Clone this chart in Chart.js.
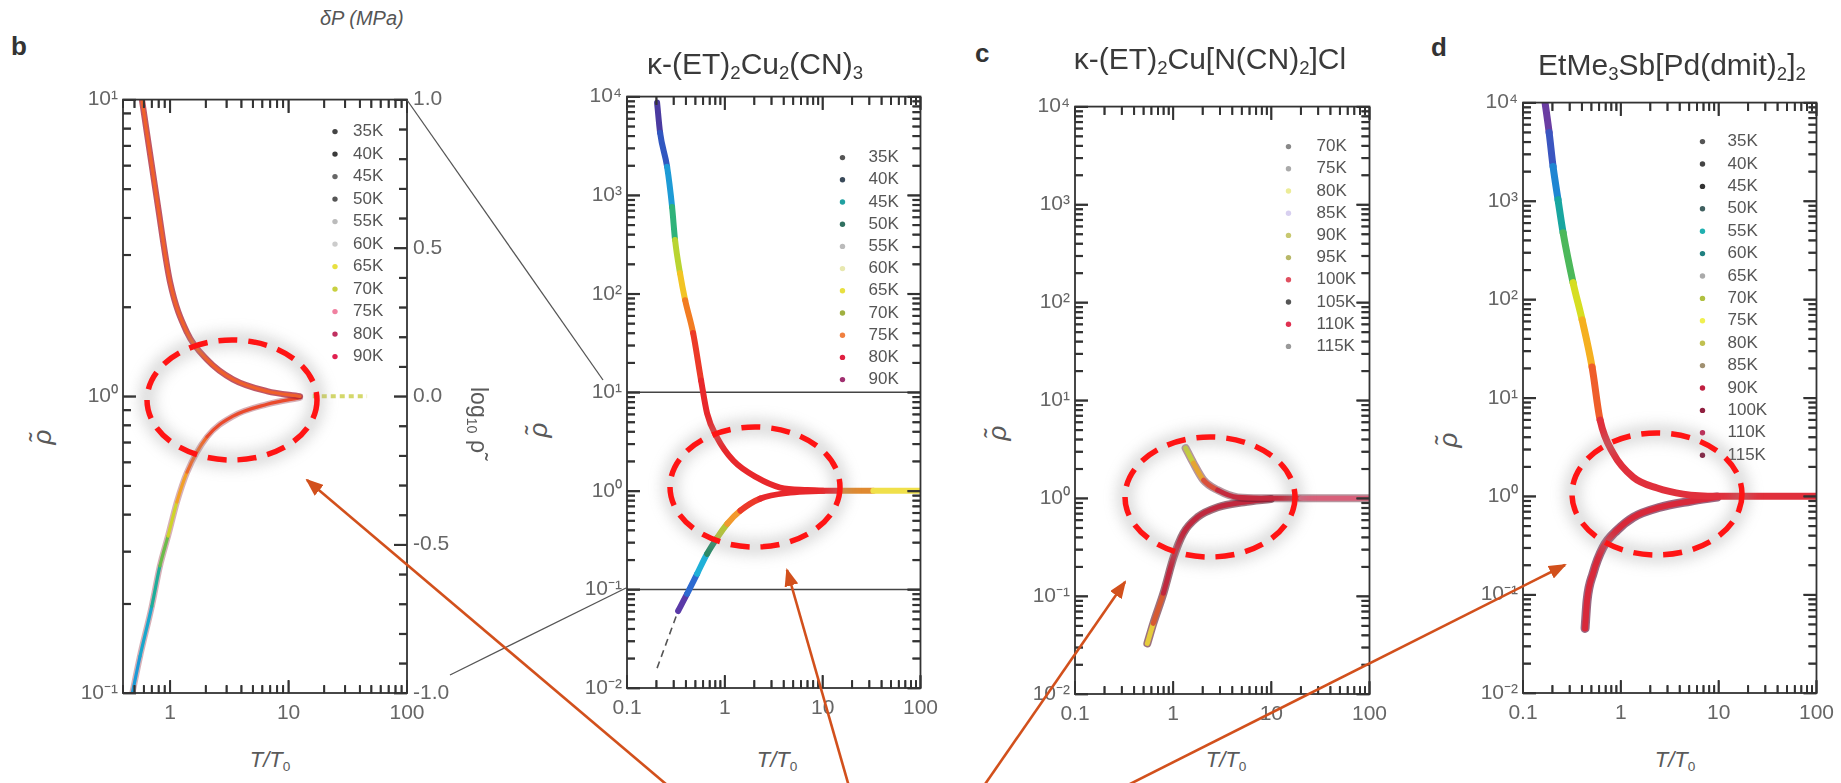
<!DOCTYPE html>
<html>
<head>
<meta charset="utf-8">
<script src="https://cdn.jsdelivr.net/npm/chart.js@4.4.1/dist/chart.umd.min.js"></script>
<style>
  html, body { margin: 0; padding: 0; background: #fff; }
  body { width: 1841px; height: 783px; position: relative; overflow: hidden;
         font-family: "Liberation Sans", Arial, sans-serif; }
  .wrap { position: absolute; }
  .txt { position: absolute; line-height: 1; white-space: nowrap; color: #3a3a3a; }
  .title { font-size: 30px; width: 420px; text-align: center; }
  .title sub, .xt sub, .rt sub { font-size: 0.62em; vertical-align: -0.28em; line-height: 0; }
  .letter { font-size: 26px; font-weight: bold; color: #333; }
  .xt { font-size: 22px; font-style: italic; color: #5a5a5a; width: 100px; text-align: center; }
  .xt sub { font-style: normal; }
  .yt { font-size: 26px; font-style: italic; color: #5a5a5a; transform: translate(-50%, -50%) rotate(-90deg); }
  .rt { font-size: 23px; color: #5a5a5a; transform: translate(-50%, -50%) rotate(90deg); }
  svg { position: absolute; left: 0; top: 0; pointer-events: none; }
</style>
</head>
<body>
<div class="wrap" id="pb"><canvas></canvas></div>
<div class="wrap" id="pcu"><canvas></canvas></div>
<div class="wrap" id="pcl"><canvas></canvas></div>
<div class="wrap" id="ppd"><canvas></canvas></div>

<div class="txt" style="left:320px;top:8px;font-size:20px;font-style:italic;color:#555">δP (MPa)</div>
<div class="txt letter" style="left:11px;top:33px">b</div>
<div class="txt letter" style="left:975px;top:40px">c</div>
<div class="txt letter" style="left:1431px;top:34px">d</div>

<div class="txt title" style="left:545px;top:49px">κ-(ET)<sub>2</sub>Cu<sub>2</sub>(CN)<sub>3</sub></div>
<div class="txt title" style="left:1000px;top:44px">κ-(ET)<sub>2</sub>Cu[N(CN)<sub>2</sub>]Cl</div>
<div class="txt title" style="left:1462px;top:50px">EtMe<sub>3</sub>Sb[Pd(dmit)<sub>2</sub>]<sub>2</sub></div>

<div class="txt xt" style="left:220px;top:749px">T/T<sub>0</sub></div>
<div class="txt xt" style="left:727px;top:749px">T/T<sub>0</sub></div>
<div class="txt xt" style="left:1176px;top:749px">T/T<sub>0</sub></div>
<div class="txt xt" style="left:1625px;top:749px">T/T<sub>0</sub></div>

<div class="txt yt" style="left:42px;top:437px">ρ̃</div>
<div class="txt yt" style="left:538px;top:430px">ρ̃</div>
<div class="txt yt" style="left:997px;top:433px">ρ̃</div>
<div class="txt yt" style="left:1448px;top:440px">ρ̃</div>
<div class="txt rt" style="left:478px;top:420px">log<sub>10</sub> ρ̃</div>

<svg width="1841" height="783" viewBox="0 0 1841 783">
  <defs>
    <filter id="glow" x="-40%" y="-40%" width="180%" height="180%"><feGaussianBlur stdDeviation="7"/></filter>
    <marker id="ah" markerUnits="userSpaceOnUse" markerWidth="18" markerHeight="14" refX="16" refY="7" orient="auto">
      <path d="M0,0 L18,7 L0,14 z" fill="#d2501c"/>
    </marker>
  </defs>
  <g id="ticks" stroke="#333" stroke-width="2" fill="none"></g>
  <g stroke="#555" stroke-width="1.3" fill="none">
    <line x1="407" y1="100" x2="603" y2="380"/>
    <line x1="450" y1="675" x2="626" y2="588"/>
  </g>
  <g fill="none" stroke="#999" stroke-width="16" opacity="0.35" filter="url(#glow)">
    <ellipse cx="232" cy="400" rx="85" ry="60"/>
    <ellipse cx="755" cy="487" rx="85" ry="60"/>
    <ellipse cx="1210" cy="497" rx="85" ry="60"/>
    <ellipse cx="1657" cy="494" rx="85" ry="61"/>
  </g>
  <g fill="none" stroke="#ff1414" stroke-width="5.5" stroke-dasharray="19 11">
    <ellipse cx="232" cy="400" rx="85" ry="60"/>
    <ellipse cx="755" cy="487" rx="85" ry="60"/>
    <ellipse cx="1210" cy="497" rx="85" ry="60"/>
    <ellipse cx="1657" cy="494" rx="85" ry="61"/>
  </g>
  <g stroke="#d2501c" stroke-width="2.6" fill="none" marker-end="url(#ah)">
    <line x1="673" y1="790" x2="307" y2="480"/>
    <line x1="850" y1="790" x2="787" y2="570"/>
    <line x1="981" y1="790" x2="1125" y2="582"/>
    <line x1="1118" y1="790" x2="1565" y2="565"/>
  </g>
</svg>

<script>
// ---------- values ----------
// b: close-up of the crossover, rho~ vs T/T0 (right axis log10 rho~)
const bTemps = ['35K', '40K', '45K', '50K', '55K', '60K', '65K', '70K', '75K', '80K', '90K'];
const bUpX = [0.578, 0.774, 1.0, 1.39, 2.05, 3.4, 6.6, 12.5];
const bUpY = [10, 4.6, 2.42, 1.64, 1.33, 1.14, 1.04, 1.0];
const bLoX = [0.48, 0.557, 0.70, 0.82, 0.96, 1.14, 1.39, 2.05, 3.4, 6.6, 12.5];
const bLoY = [0.1, 0.133, 0.196, 0.268, 0.338, 0.44, 0.555, 0.73, 0.857, 0.94, 0.99];
const bTailX = [16, 46];
const bTailY = [1, 1];

// kappa-(ET)2Cu2(CN)3
const cuTemps = ['35K', '40K', '45K', '50K', '55K', '60K', '65K', '70K', '75K', '80K', '90K'];
const cuUpX = [0.203, 0.218, 0.257, 0.289, 0.31, 0.348, 0.393, 0.474, 0.572, 0.659, 0.834, 1.22, 2.14, 3.68, 6.95, 15.1, 33, 100];
const cuUpY = [8690, 4300, 1940, 760, 351, 162, 86, 40, 13.2, 6.1, 3.47, 2.03, 1.36, 1.08, 1.02, 1.0, 1.0, 1.0];
const cuLoX = [0.333, 0.411, 0.521, 0.659, 0.834, 1.06, 1.44, 2.3, 4.66, 10.1];
const cuLoY = [0.0604, 0.09, 0.144, 0.23, 0.334, 0.464, 0.629, 0.834, 0.96, 1.0];
const cuGuideX = [0.203, 0.333];
const cuGuideY = [0.0159, 0.0604];
const cuZoomY = [10, 0.1]; // window shown enlarged in panel b

// c: kappa-(ET)2Cu[N(CN)2]Cl
const clTemps = ['70K', '75K', '80K', '85K', '90K', '95K', '100K', '105K', '110K', '115K'];
const clUpX = [1.34, 1.61, 2.04, 2.84, 4.55, 7.8, 20, 100];
const clUpY = [3.25, 2.28, 1.53, 1.21, 1.02, 1.0, 1.0, 1.0];
const clLoX = [0.546, 0.628, 0.796, 1.01, 1.27, 1.77, 2.84, 5.24, 9.9];
const clLoY = [0.0329, 0.0527, 0.107, 0.249, 0.439, 0.64, 0.809, 0.91, 0.98];

// d: EtMe3Sb[Pd(dmit)2]2
const pdTemps = ['35K', '40K', '45K', '50K', '55K', '60K', '65K', '70K', '75K', '80K', '85K', '90K', '100K', '110K', '115K'];
const pdUpX = [0.168, 0.185, 0.203, 0.228, 0.257, 0.325, 0.402, 0.508, 0.614, 0.834, 1.34, 2.35, 4.35, 9.7, 26.7, 100];
const pdUpY = [10000, 4970, 2240, 1033, 476, 148, 62, 20.6, 5.94, 2.74, 1.56, 1.21, 1.05, 1.0, 1.0, 1.0];
const pdLoX = [0.431, 0.452, 0.52, 0.659, 0.916, 1.34, 2.52, 5.12, 9.7];
const pdLoY = [0.0453, 0.0873, 0.164, 0.303, 0.451, 0.611, 0.773, 0.889, 0.98];

// ---------- colours (style only) ----------
const RED = '#e8282c';
const bUpCol = ['#f0602a'];
const bLoCol = ['#1b9ad6', '#1aa8cc', '#1fae9a', '#6cbc4a', '#cfd42a', '#f2a126', '#f06a2a', '#ea4a2c'];
const bDot = ['#444', '#3a3a3a', '#666', '#555', '#bbb', '#ccc', '#e8e040', '#c8d040', '#f080a0', '#c03060', '#e02050'];
const cuUpCol = ['#4a3aa0', '#3157c0', '#1e9bd6', '#2fb37a', '#b9d431', '#f2c424', '#f27c22', '#ec3a28',
                 RED, RED, RED, RED, RED, RED, RED, '#e08a30', '#f0e04a'];
const cuLoCol = ['#5a3aa8', '#2d6ad0', '#1fb0d8', '#278a66', '#b5c832', '#f29a2e', '#ec3a2a', RED];
const cuDot = ['#555', '#3a4a5a', '#20a0a0', '#307060', '#bbb', '#e8e8b0', '#e8e040', '#a0b040', '#f08040', '#e02040', '#a03070'];
const clUpCol = ['#c6cf3c', '#e4a432', '#d9503c', '#c42a3e', '#c42a3e', '#c42a3e', '#d8607a'];
const clLoCol = ['#e6cc3c', '#d65a32', '#c0283e'];
const clDot = ['#888', '#aaa', '#ecec98', '#d8d0f0', '#c8c870', '#b8b868', '#e05060', '#555', '#e03050', '#999'];
const pdUpCol = ['#6a3da2', '#3b56c0', '#1f86d2', '#19a6a0', '#4cb85a', '#d6de22', '#f5b020', '#ef5e2a', '#e0303c'];
const pdLoCol = ['#d8283a'];
const pdDot = ['#555', '#444', '#333', '#406060', '#20b0b0', '#208080', '#aaa', '#b0c040', '#f0f050', '#c0c050',
               '#a09070', '#c02040', '#902040', '#c02050', '#802040'];

// ---------- helpers ----------
const FONT = '"Liberation Sans", Arial, sans-serif';
const SUP = { '-': '⁻', '0': '⁰', '1': '¹', '2': '²', '3': '³', '4': '⁴' };
const pow10 = v => '10' + String(Math.round(Math.log10(v))).split('').map(c => SUP[c]).join('');

function line(xs, ys, color, width, extra) {
  return Object.assign({
    data: xs.map((x, i) => ({ x, y: ys[i] })),
    borderColor: color, borderWidth: width, pointRadius: 0,
    cubicInterpolationMode: 'monotone', borderCapStyle: 'round', borderJoinStyle: 'round',
  }, extra || {});
}

function branch(xs, ys, cols, width, edge) {
  const out = [];
  if (edge) out.push(line(xs, ys, edge, width + 3));
  out.push(line(xs, ys, cols[0], width, {
    segment: { borderColor: c => cols[Math.min(c.p0DataIndex, cols.length - 1)] },
  }));
  return out;
}

// chart.js paints dataset 0 last, so give it painter's order and flip
const stack = (...groups) => groups.flat().reverse();

// 1..9 x 10^n between min and max, flagged true for the decades
function logMarks(min, max) {
  const out = [];
  const e0 = Math.floor(Math.log10(min)), e1 = Math.ceil(Math.log10(max));
  for (let e = e0; e <= e1; e++) {
    for (let m = 1; m <= 9; m++) {
      const v = m * Math.pow(10, e);
      if (v >= min * 0.999 && v <= max * 1.001) out.push([v, m === 1]);
    }
  }
  return out;
}

// tick positions in canvas pixels, taken from the chart's scales
function tickSegments(chart, cfg) {
  const a = chart.chartArea;
  const sx = chart.scales.x, sy = chart.scales.y, sr = chart.scales.yR;
  const segs = [];
  logMarks(cfg.xMin, cfg.xMax).forEach(([v, major]) => {
    const p = sx.getPixelForValue(v), len = major ? 13 : 8;
    segs.push([p, a.bottom, p, a.bottom - len], [p, a.top, p, a.top + len]);
  });
  logMarks(cfg.yMin, cfg.yMax).forEach(([v, major]) => {
    const p = sy.getPixelForValue(v), len = major ? 13 : 8;
    segs.push([a.left, p, a.left + len, p]);
    if (!sr) segs.push([a.right, p, a.right - len, p]);
  });
  if (sr) {
    for (let k = -10; k <= 10; k++) {
      const p = sr.getPixelForValue(k / 10), len = k % 5 === 0 ? 13 : 8;
      segs.push([a.right, p, a.right - len, p]);
    }
  }
  return segs;
}

// plot-area box and inward ticks drawn on the canvas
function frameBox(cfg) {
  return {
    id: 'frameBox',
    afterDraw(chart) {
      const { ctx, chartArea: a } = chart;
      ctx.save();
      ctx.strokeStyle = '#333';
      ctx.lineWidth = 1.6;
      ctx.setLineDash([]);
      tickSegments(chart, cfg).forEach(([x1, y1, x2, y2]) => {
        ctx.beginPath();
        ctx.moveTo(x1, y1);
        ctx.lineTo(x2, y2);
        ctx.stroke();
      });
      ctx.lineWidth = 1.8;
      ctx.strokeRect(a.left, a.top, a.right - a.left, a.bottom - a.top);
      ctx.restore();
    },
  };
}

function dotLegend(lg) {
  return {
    id: 'dotLegend',
    afterDatasetsDraw(chart) {
      const { ctx, chartArea: a } = chart;
      ctx.save();
      ctx.font = '17px ' + FONT;
      ctx.textBaseline = 'middle';
      lg.labels.forEach((t, i) => {
        const y = a.top + lg.top + i * lg.dy;
        ctx.fillStyle = lg.colors[i];
        ctx.beginPath();
        ctx.arc(a.right - lg.mark, y, 2.7, 0, Math.PI * 2);
        ctx.fill();
        ctx.fillStyle = '#555';
        ctx.fillText(t, a.right - lg.text, y);
      });
      ctx.restore();
    },
  };
}

// same ticks again in the svg layer above the canvases
const tickLayer = document.getElementById('ticks');
function addSvgTicks(chart, box, cfg) {
  const a = chart.chartArea;
  tickSegments(chart, cfg).forEach(([x1, y1, x2, y2]) => {
    if (![x1, y1, x2, y2].every(Number.isFinite)) return;
    const el = document.createElementNS('http://www.w3.org/2000/svg', 'line');
    el.setAttribute('x1', (box.L + x1 - a.left).toFixed(1));
    el.setAttribute('y1', (box.T + y1 - a.top).toFixed(1));
    el.setAttribute('x2', (box.L + x2 - a.left).toFixed(1));
    el.setAttribute('y2', (box.T + y2 - a.top).toFixed(1));
    tickLayer.appendChild(el);
  });
}

// nudge the canvas so the plot area lands where it is in the figure
function fitArea(chart, wrap, box) {
  for (let k = 0; k < 2; k++) {
    const a = chart.chartArea;
    wrap.style.width = (wrap.clientWidth + (box.R - box.L) - (a.right - a.left)) + 'px';
    wrap.style.height = (wrap.clientHeight + (box.B - box.T) - (a.bottom - a.top)) + 'px';
    chart.resize();
    const b = chart.chartArea;
    wrap.style.left = (box.L - b.left) + 'px';
    wrap.style.top = (box.T - b.top) + 'px';
  }
}

function makePanel(id, box, cfg) {
  const wrap = document.getElementById(id);
  wrap.style.left = (box.L - 60) + 'px';
  wrap.style.top = (box.T - 15) + 'px';
  wrap.style.width = (box.R - box.L + (cfg.right ? 120 : 80)) + 'px';
  wrap.style.height = (box.B - box.T + 65) + 'px';

  const tickFont = { family: FONT, size: 21 };
  const scales = {
    x: {
      type: 'logarithmic', min: cfg.xMin, max: cfg.xMax,
      grid: { display: false, drawTicks: false }, border: { display: false },
      afterBuildTicks: s => { s.ticks = cfg.xLabels.map(v => ({ value: v })); },
      ticks: { font: tickFont, color: '#666', padding: 8, maxRotation: 0, autoSkip: false, callback: v => String(v) },
      afterFit: s => { s.height = 46; },
    },
    y: {
      type: 'logarithmic', min: cfg.yMin, max: cfg.yMax,
      grid: { display: false, drawTicks: false }, border: { display: false },
      afterBuildTicks: s => { s.ticks = cfg.yLabels.map(v => ({ value: v })); },
      ticks: { font: tickFont, color: '#666', padding: 5, autoSkip: false, callback: v => pow10(v) },
      afterFit: s => { s.width = 58; },
    },
  };
  if (cfg.right) {
    scales.yR = {
      type: 'linear', position: 'right', min: -1, max: 1,
      grid: { display: false, drawTicks: false }, border: { display: false },
      afterBuildTicks: s => { s.ticks = [-1, -0.5, 0, 0.5, 1].map(v => ({ value: v })); },
      ticks: { font: tickFont, color: '#666', padding: 6, autoSkip: false, callback: v => v.toFixed(1) },
      afterFit: s => { s.width = 58; },
    };
  }

  const chart = new Chart(wrap.querySelector('canvas'), {
    type: 'line',
    data: { datasets: cfg.datasets },
    options: {
      animation: false, responsive: true, maintainAspectRatio: false, devicePixelRatio: 1,
      layout: { padding: { top: 14, right: cfg.right ? 0 : 20, left: 0, bottom: 0 } },
      plugins: { legend: { display: false }, tooltip: { enabled: false } },
      scales,
    },
    plugins: [frameBox(cfg), dotLegend(cfg.legend)],
  });
  fitArea(chart, wrap, box);
  addSvgTicks(chart, box, cfg);
  return chart;
}

// ---------- panels ----------
makePanel('pb', { L: 123, T: 100, R: 407, B: 693 }, {
  xMin: 0.4, xMax: 100, yMin: 0.1, yMax: 10, right: true,
  xLabels: [1, 10, 100], yLabels: [0.1, 1, 10],
  legend: { labels: bTemps, colors: bDot, mark: 72, text: 54, top: 32, dy: 22.5 },
  datasets: stack(
    line(bTailX, bTailY, '#d4d86a', 4, { borderDash: [5, 4], borderCapStyle: 'butt' }),
    branch(bLoX, bLoY, bLoCol, 3.2, 'rgba(140,30,50,0.35)'),
    branch(bUpX, bUpY, bUpCol, 3.2, 'rgba(170,30,50,0.75)')
  ),
});

const cuXs = [0.1, 100];
makePanel('pcu', { L: 627, T: 97, R: 920, B: 688 }, {
  xMin: 0.1, xMax: 100, yMin: 0.01, yMax: 10000,
  xLabels: [0.1, 1, 10, 100], yLabels: [0.01, 0.1, 1, 10, 100, 1000, 10000],
  legend: { labels: cuTemps, colors: cuDot, mark: 78, text: 52, top: 61, dy: 22.2 },
  datasets: stack(
    line(cuXs, [cuZoomY[0], cuZoomY[0]], '#444', 1.6, { cubicInterpolationMode: 'default', borderCapStyle: 'butt' }),
    line(cuXs, [cuZoomY[1], cuZoomY[1]], '#444', 1.6, { cubicInterpolationMode: 'default', borderCapStyle: 'butt' }),
    line(cuGuideX, cuGuideY, '#555', 1.6, { borderDash: [7, 5], borderCapStyle: 'butt' }),
    branch(cuLoX, cuLoY, cuLoCol, 6),
    branch(cuUpX, cuUpY, cuUpCol, 6)
  ),
});

makePanel('pcl', { L: 1075, T: 107, R: 1369, B: 694 }, {
  xMin: 0.1, xMax: 100, yMin: 0.01, yMax: 10000,
  xLabels: [0.1, 1, 10, 100], yLabels: [0.01, 0.1, 1, 10, 100, 1000, 10000],
  legend: { labels: clTemps, colors: clDot, mark: 81, text: 53, top: 40, dy: 22.2 },
  datasets: stack(
    branch(clLoX, clLoY, clLoCol, 5, 'rgba(90,20,40,0.6)'),
    branch(clUpX, clUpY, clUpCol, 5, 'rgba(90,20,40,0.45)')
  ),
});

makePanel('ppd', { L: 1523, T: 103, R: 1816, B: 693 }, {
  xMin: 0.1, xMax: 100, yMin: 0.01, yMax: 10000,
  xLabels: [0.1, 1, 10, 100], yLabels: [0.01, 0.1, 1, 10, 100, 1000, 10000],
  legend: { labels: pdTemps, colors: pdDot, mark: 114, text: 89, top: 39, dy: 22.4 },
  datasets: stack(
    branch(pdLoX, pdLoY, pdLoCol, 6, 'rgba(100,20,60,0.65)'),
    branch(pdUpX, pdUpY, pdUpCol, 7)
  ),
});
</script>
</body>
</html>
